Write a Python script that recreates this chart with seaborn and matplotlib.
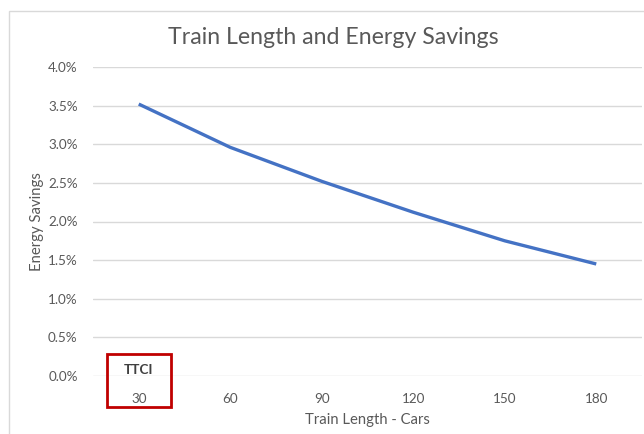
import matplotlib
matplotlib.use("Agg")
import matplotlib.pyplot as plt
from matplotlib.patches import Rectangle
import matplotlib.transforms as mtransforms
from matplotlib.ticker import PercentFormatter
import seaborn as sns
import pandas as pd

# Train length (cars) vs. energy savings (%)
train_cars = [30, 60, 90, 120, 150, 180]
energy_savings = [3.52, 2.96, 2.52, 2.12, 1.75, 1.45]
y_ticks = [0.0, 0.5, 1.0, 1.5, 2.0, 2.5, 3.0, 3.5, 4.0]

df = pd.DataFrame({"cars": train_cars, "savings": energy_savings})

sns.set_theme(style="white")
plt.rcParams["font.family"] = ["Lato", "DejaVu Sans"]

text_gray = "#595959"
grid_gray = "#d9d9d9"

fig = plt.figure(figsize=(6.44, 4.34), dpi=100)
ax = fig.add_axes([93 / 644, 1 - 376 / 434, (642 - 93) / 644, (376 - 67) / 434])

sns.lineplot(data=df, x="cars", y="savings", ax=ax, color="#4472C4",
             linewidth=2.4, solid_capstyle="butt")

ax.set_xlim(15, 195)
ax.set_ylim(0, 4.0)
ax.set_xticks(train_cars)
ax.set_yticks(y_ticks)
ax.yaxis.set_major_formatter(PercentFormatter(decimals=1))
ax.grid(axis="y", color=grid_gray, linewidth=1)
ax.set_axisbelow(True)
for s in ax.spines.values():
    s.set_visible(False)
ax.tick_params(axis="both", length=0, labelsize=9.7, labelcolor=text_gray)
ax.tick_params(axis="y", pad=11)
ax.tick_params(axis="x", pad=12)

ax.set_xlabel("Train Length - Cars", fontsize=10.7, color=text_gray, labelpad=6)
ax.set_ylabel("Energy Savings", fontsize=10.7, color=text_gray, labelpad=3)
fig.text(0.5175, 1 - 38 / 434, "Train Length and Energy Savings",
         ha="center", va="center", fontsize=16.7, color=text_gray)

# Highlight box around the first category
blend = mtransforms.blended_transform_factory(ax.transData, ax.transAxes)
ax.add_patch(Rectangle((19.5, -0.1), 21, 0.171, transform=blend,
                       fill=False, edgecolor="#C00000", linewidth=2,
                       clip_on=False))
ax.text(30, 0.019, "TTCI", transform=blend, ha="center", va="center",
        fontsize=9.7, fontweight="bold", color="#404040")

# Chart-area frame
fig.add_artist(Rectangle((9 / 644, -0.1), 1.2, 1 - 11 / 434 + 0.1,
                         transform=fig.transFigure, fill=False,
                         edgecolor=grid_gray, linewidth=1))

fig.savefig("out.png", dpi=100, facecolor="white")
